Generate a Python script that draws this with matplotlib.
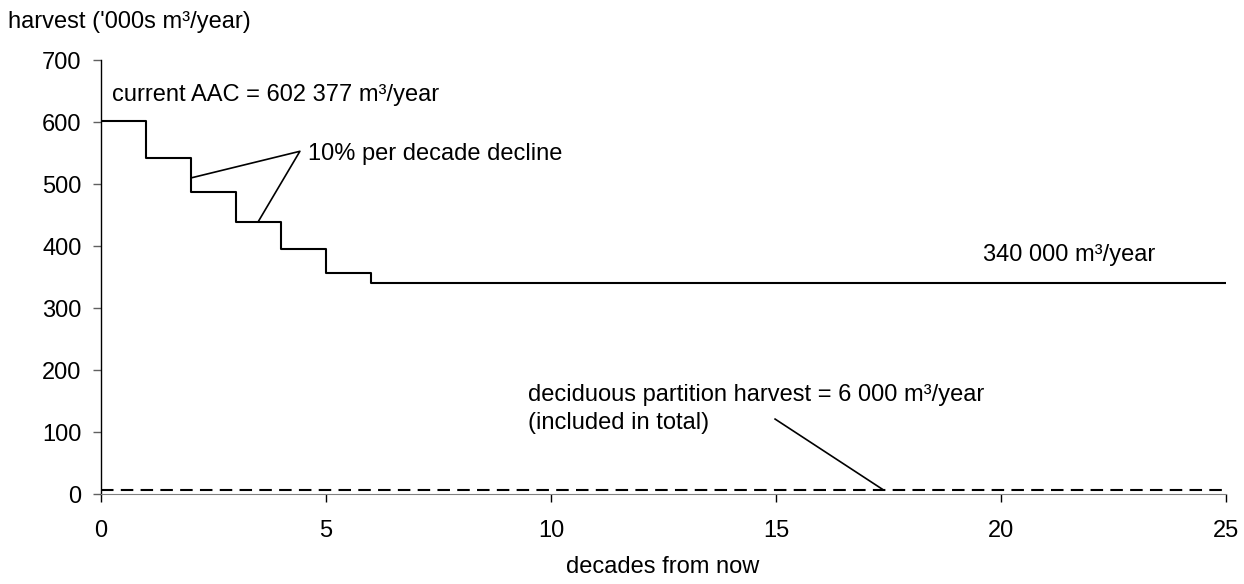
import matplotlib.pyplot as plt

plt.rcParams['font.family'] = ['Liberation Sans', 'DejaVu Sans']

# harvest steps ('000s m3/year), decade boundaries
decades = [0, 1, 2, 3, 4, 5, 6, 25]
harvest = [602.377, 542, 488, 439, 395, 356, 340, 340]
decid_x = [0, 25]
decid_y = [6, 6]

FS = 17

fig = plt.figure(figsize=(12.44, 5.84), dpi=100)
ax = fig.add_axes([0.0812, 0.154, 0.9043, 0.743])

ax.step(decades, harvest, where='post', color='black', lw=1.5)
ax.plot(decid_x, decid_y, color='black', lw=1.5, linestyle=(0, (6, 3.5)))

ax.set_xlim(0, 25)
ax.set_ylim(0, 700)
ax.set_xticks(range(0, 26, 5))
ax.set_yticks(range(0, 701, 100))

for s in ['top', 'right']:
    ax.spines[s].set_visible(False)
ax.spines['bottom'].set_color('#808080')
ax.spines['left'].set_linewidth(1.0)
ax.tick_params(axis='both', labelsize=FS, length=6, width=1.0, direction='out')
ax.tick_params(axis='x', pad=13)
ax.tick_params(axis='y', pad=8, color='#606060')

# annotations
ax.text(0.24, 643, 'current AAC = 602 377 m³/year', fontsize=FS, va='center')
ax.text(4.6, 548, '10% per decade decline', fontsize=FS, va='center')
ax.plot([2.0, 4.42, 3.49], [510, 553, 439], color='black', lw=1.2)
ax.text(19.6, 385, '340 000 m³/year', fontsize=FS, va='center')
ax.text(9.49, 160, 'deciduous partition harvest = 6 000 m³/year', fontsize=FS, va='center')
ax.text(9.49, 114, '(included in total)', fontsize=FS, va='center')
ax.plot([14.98, 17.36], [121, 8], color='black', lw=1.2)

fig.text(8 / 1244, 1 - 22 / 584, "harvest ('000s m³/year)", fontsize=FS, va='center')
fig.text(663 / 1244, 1 - 567 / 584, 'decades from now', fontsize=FS, va='center', ha='center')

fig.savefig('out.png', dpi=100)
